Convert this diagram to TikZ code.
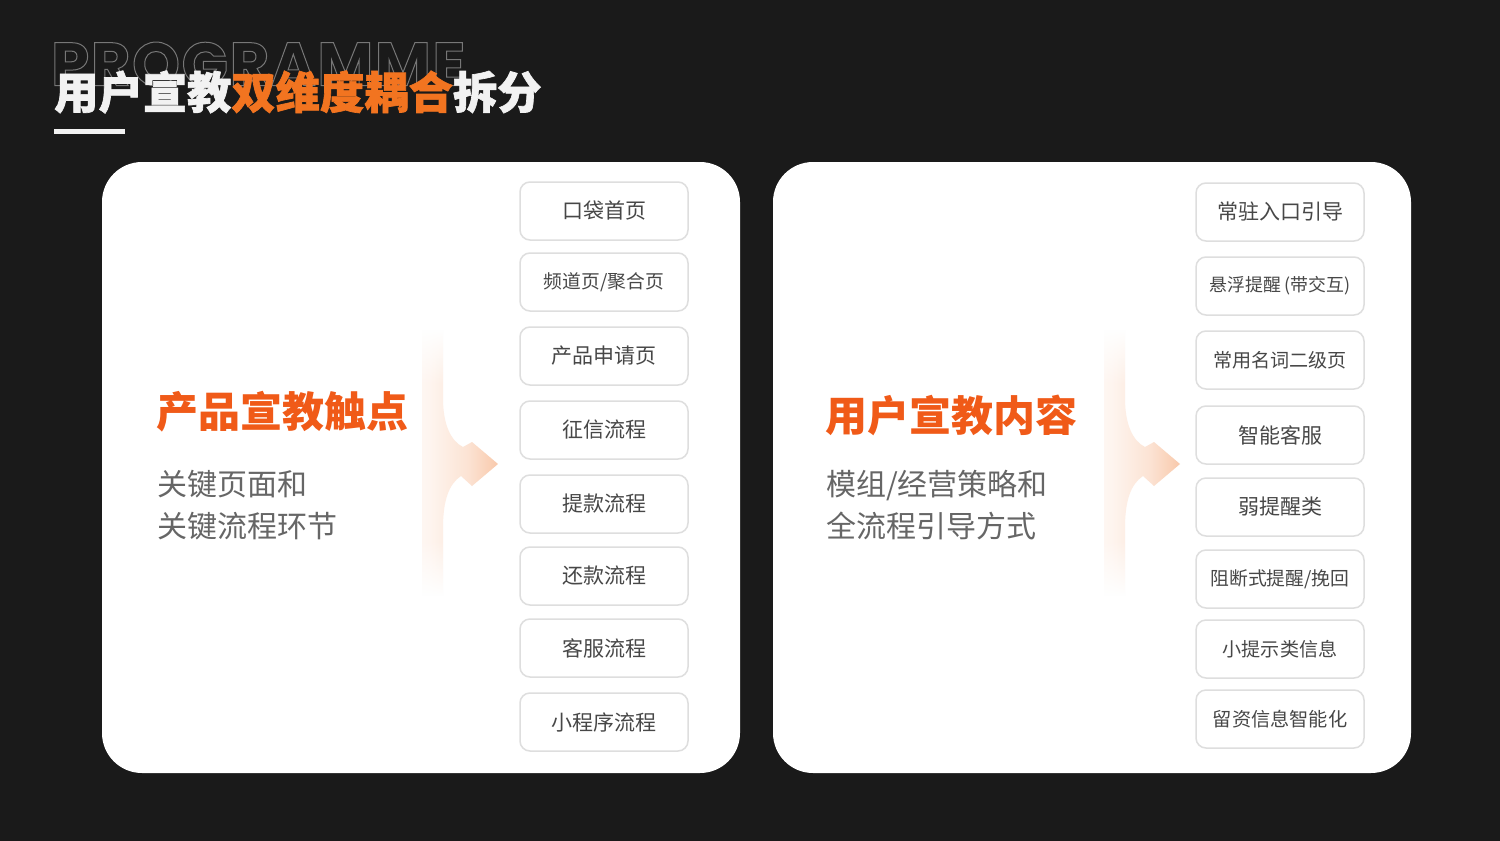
\documentclass[tikz,border=0pt]{standalone}
\usepackage{fontspec}
\usetikzlibrary{fadings}
\setmainfont{Noto Sans CJK SC}
\newfontfamily\progfont{Poppins}[LetterSpace=2.5]
\newfontfamily\headfont{Noto Sans CJK SC}[FakeBold=1.5]
\definecolor{bg}{HTML}{1A1A1A}
\definecolor{titlewhite}{HTML}{F2F2F2}
\definecolor{titleorange}{HTML}{F27420}
\definecolor{cardorange}{HTML}{F05A18}
\definecolor{subgray}{HTML}{666666}
\definecolor{boxtext}{HTML}{474747}
\definecolor{boxline}{HTML}{DEDEDE}
\definecolor{peach}{HTML}{F5A878}
\definecolor{outlinegray}{HTML}{777777}
\pgfdeclarehorizontalshading{arrowfade}{100bp}{color(0bp)=(white); color(30bp)=(peach!12!white); color(55bp)=(peach!32!white); color(100bp)=(peach)}
\newcommand\flowarrow{%
  \shade[shading=arrowfade] (422,330) -- (443,330) -- (443,398)
      .. controls (443,425) and (451,441) .. (463,447)
      -- (472,442) -- (498,464) -- (472,486) -- (461,476)
      .. controls (449,484) and (443,500) .. (443,528)
      -- (443,595) -- (422,595) -- cycle;
  \fill[white, path fading=south] (420,329) rectangle (446,385);
  \fill[white, path fading=north] (420,540) rectangle (446,596);}
\tikzset{
  card/.style={fill=white, rounded corners=40pt},
  itembox/.style={draw=boxline, line width=1.5pt, fill=white, rounded corners=10pt,
    minimum width=168pt, minimum height=58pt, inner sep=0pt, text=boxtext,
    font=\fontsize{21}{24}\selectfont},
  cardtitle/.style={anchor=west, inner sep=0pt, text=cardorange,
    font=\fontsize{42}{50}\selectfont\bfseries},
  cardsub/.style={anchor=north west, inner sep=0pt, text=subgray, align=left,
    font=\fontsize{30}{42}\selectfont},
}
\begin{document}
\begin{tikzpicture}[x=1pt,y=-1pt]
\useasboundingbox (0,0) rectangle (1500,841);
\fill[bg] (0,0) rectangle (1500,841);

% header
\node[anchor=west, inner sep=0pt, text=outlinegray] (prog) at (51,64)
  {\special{pdf:literal direct 1 Tr 1 w}\progfont\fontsize{61}{62}\selectfont\bfseries PROGRAMME\special{pdf:literal direct 0 Tr}};
\node[anchor=west, inner sep=0pt, font=\headfont\fontsize{44.3}{52}\selectfont\bfseries] (title) at (54,92)
  {{\color{titlewhite}用户宣教}{\color{titleorange}双维度耦合}{\color{titlewhite}拆分}};
\fill[titlewhite] (54,129) rectangle (125,134);

% cards
\fill[card] (102,162) rectangle (740,773);
\fill[card] (773,162) rectangle (1411,773);

\flowarrow
\begin{scope}[xshift=682pt]
\flowarrow
\end{scope}

% left card
\node[cardtitle] (t1) at (156,412) {产品宣教触点};
\node[cardsub] (s1) at (157,470) {关键页面和\\关键流程环节};
\node[itembox] (a1) at (604,211) {口袋首页};
\node[itembox, font=\fontsize{18.8}{22}\selectfont] (a2) at (604,282) {频道页/聚合页};
\node[itembox] (a3) at (604,356) {产品申请页};
\node[itembox] (a4) at (604,430) {征信流程};
\node[itembox] (a5) at (604,504) {提款流程};
\node[itembox] (a6) at (604,576) {还款流程};
\node[itembox] (a7) at (604,648) {客服流程};
\node[itembox] (a8) at (604,722) {小程序流程};

% right card
\node[cardtitle] (t2) at (825,415) {用户宣教内容};
\node[cardsub] (s2) at (826,470) {模组/经营策略和\\全流程引导方式};
\node[itembox] (b1) at (1280,212) {常驻入口引导};
\node[itembox, font=\fontsize{17.9}{22}\selectfont] (b2) at (1280,286) {悬浮提醒 (带交互)};
\node[itembox, font=\fontsize{19.1}{22}\selectfont] (b3) at (1280,360) {常用名词二级页};
\node[itembox] (b4) at (1280,435) {智能客服};
\node[itembox] (b5) at (1280,507) {弱提醒类};
\node[itembox, font=\fontsize{18.8}{22}\selectfont] (b6) at (1280,579) {阻断式提醒/挽回};
\node[itembox, font=\fontsize{19.1}{22}\selectfont] (b7) at (1280,649) {小提示类信息};
\node[itembox, font=\fontsize{19.2}{22}\selectfont] (b8) at (1280,719) {留资信息智能化};
\end{tikzpicture}
\end{document}
